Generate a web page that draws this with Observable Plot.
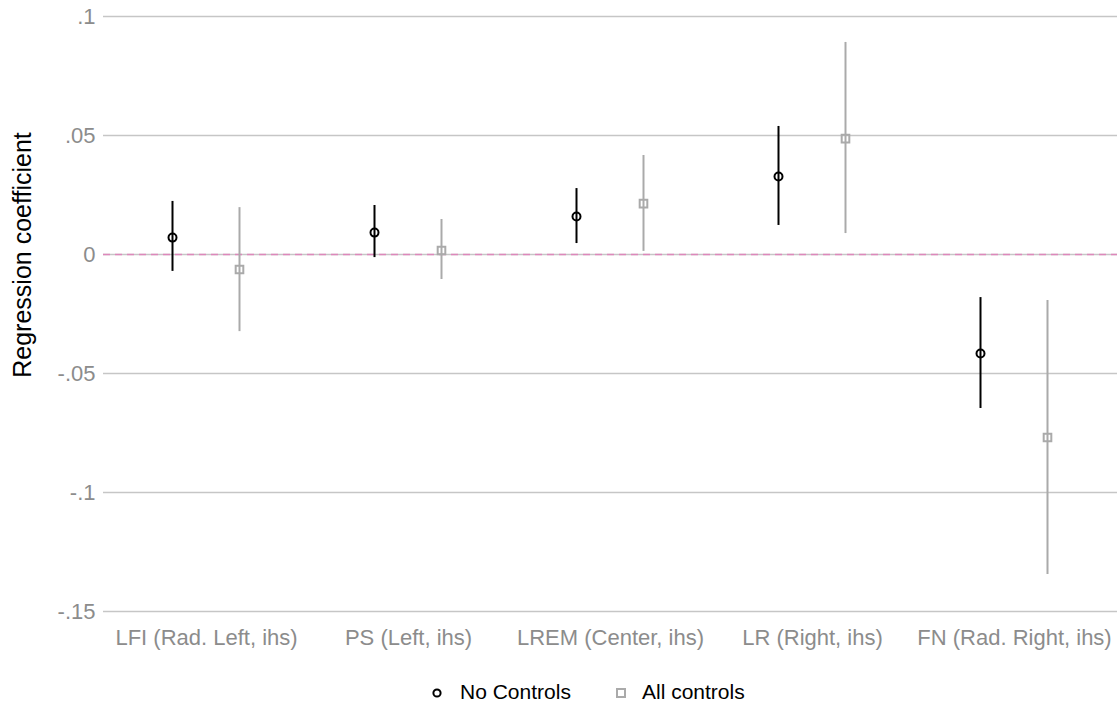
<!DOCTYPE html>
<html>
<head>
<meta charset="utf-8">
<script src="https://cdn.jsdelivr.net/npm/d3@7"></script>
<script src="https://cdn.jsdelivr.net/npm/@observablehq/plot@0.6"></script>
<style>
  html, body { margin: 0; padding: 0; background: #fff; }
  body { width: 1117px; font-family: "Liberation Sans", Arial, sans-serif; }
  #legend { position: relative; height: 39px; font-size: 21px; color: #000; }
  #legend .sym { position: absolute; top: 17px; }
  #legend .lab { position: absolute; top: 10px; line-height: 24px; white-space: nowrap; }
</style>
</head>
<body>
<div id="chart"></div>
<div id="legend">
  <svg class="sym" style="left:431px" width="12" height="12"><circle cx="6" cy="6" r="3.6" fill="none" stroke="#000" stroke-width="2"/></svg>
  <span class="lab" style="left:460px">No Controls</span>
  <svg class="sym" style="left:615px" width="12" height="12"><rect x="2" y="2" width="8" height="8" fill="none" stroke="#aaaaaa" stroke-width="2"/></svg>
  <span class="lab" style="left:642px">All controls</span>
</div>
<script>
const categories = ["LFI (Rad. Left, ihs)", "PS (Left, ihs)", "LREM (Center, ihs)", "LR (Right, ihs)", "FN (Rad. Right, ihs)"];
const noControlsEst = [0.0071, 0.0092, 0.0160, 0.0328, -0.0416];
const noControlsLo  = [-0.0071, -0.0013, 0.0046, 0.0122, -0.0647];
const noControlsHi  = [0.0223, 0.0206, 0.0277, 0.0538, -0.0181];
const allControlsEst = [-0.0063, 0.0017, 0.0214, 0.0487, -0.0769];
const allControlsLo  = [-0.0324, -0.0105, 0.0013, 0.0088, -0.1345];
const allControlsHi  = [0.0197, 0.0147, 0.0416, 0.0891, -0.0193];
const yTicks = [0.1, 0.05, 0, -0.05, -0.1, -0.15];

const nc = categories.map((c, i) => ({cat: c, est: noControlsEst[i], lo: noControlsLo[i], hi: noControlsHi[i]}));
const ac = categories.map((c, i) => ({cat: c, est: allControlsEst[i], lo: allControlsLo[i], hi: allControlsHi[i]}));

const fmt = d => d === 0 ? "0" : String(d).replace("0.", ".");

const chart = Plot.plot({
  width: 1117,
  height: 670,
  marginTop: 16,
  marginBottom: 59,
  marginLeft: 103,
  marginRight: 0,
  style: {fontFamily: "Liberation Sans, Arial, sans-serif", fontSize: "17px", background: "#fff"},
  x: {type: "band", domain: categories, padding: 0, label: null},
  y: {domain: [-0.15, 0.1], label: null},
  marks: [
    Plot.ruleY(yTicks, {stroke: "#c6c6c6", strokeWidth: 1.3}),
    Plot.ruleY([0], {stroke: "#dd88bb", strokeWidth: 1.6, strokeDasharray: "7,5"}),
    Plot.axisY(yTicks, {tickSize: 0, tickPadding: 8, tickFormat: fmt, fill: "#8c8c8c", fontSize: 22, label: null}),
    Plot.axisX({tickSize: 0, tickPadding: 18, fill: "#8c8c8c", fontSize: 22, label: null}),
    Plot.ruleX(nc, {x: "cat", y1: "lo", y2: "hi", dx: -34, stroke: "#000", strokeWidth: 2}),
    Plot.dot(nc, {x: "cat", y: "est", dx: -34, symbol: "circle", r: 4, stroke: "#000", strokeWidth: 2, fill: "none"}),
    Plot.ruleX(ac, {x: "cat", y1: "lo", y2: "hi", dx: 33, stroke: "#aaaaaa", strokeWidth: 2}),
    Plot.dot(ac, {x: "cat", y: "est", dx: 33, symbol: "square", r: 4.3, stroke: "#aaaaaa", strokeWidth: 2, fill: "none"}),
    Plot.text(["Regression coefficient"], {frameAnchor: "left", textAnchor: "middle", dx: -81, dy: -59, rotate: -90, fontSize: 25, fill: "#000"})
  ]
});
document.getElementById("chart").appendChild(chart);
</script>
</body>
</html>
